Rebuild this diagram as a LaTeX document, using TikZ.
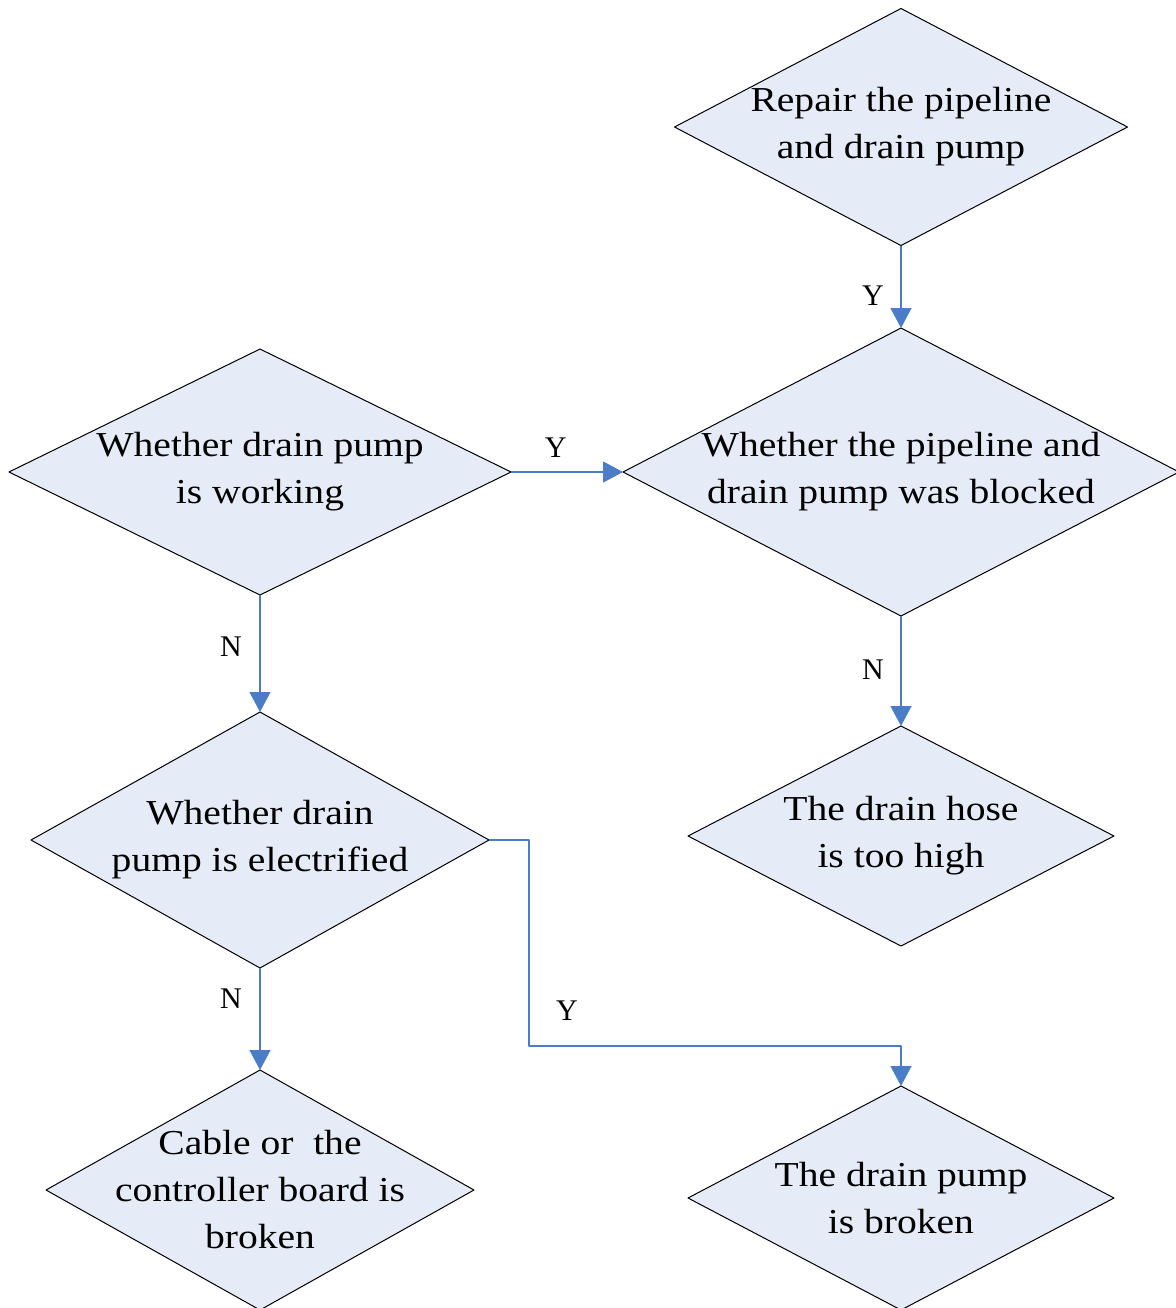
\documentclass[tikz,border=0pt]{standalone}
\usepackage{fontspec}
\setmainfont{Liberation Serif}
\newfontfamily\widefont[FakeStretch=1.13]{Liberation Serif}
\usetikzlibrary{shapes.geometric,arrows.meta}
\definecolor{boxfill}{HTML}{E6ECF7}
\definecolor{linkblue}{HTML}{4A7CC8}
\begin{document}
\begin{tikzpicture}[x=0.5pt,y=-0.5pt,>={Triangle[length=10pt,width=10.5pt]},line join=round,
		dia/.style 2 args={diamond,draw=black,line width=0.5pt,fill=boxfill,inner sep=0pt,outer sep=0pt,minimum width=#1pt,minimum height=#2pt},
		txt/.style={align=center,font=\widefont\fontsize{17.5}{23.5}\selectfont},
		link/.style={draw=linkblue,line width=0.6pt,->},
		yn/.style={font=\fontsize{15}{18}\selectfont}]
			\useasboundingbox (0,0) rectangle (1176,1308);
			% diamonds
			\node [dia={226.5}{118.5}, label={[txt]center:{Repair the pipeline\\and drain pump}}] (repair) at (901,127) {};
			\node [dia={278}{144}, label={[txt]center:{Whether the pipeline and\\drain pump was blocked}}] (block) at (901,472) {};
			\node [dia={251}{123}, label={[txt]center:{Whether drain pump\\is working}}] (work) at (260,472) {};
			\node [dia={229}{128}, label={[txt]center:{Whether drain\\pump is electrified}}] (elec) at (260,840) {};
			\node [dia={213}{110}, label={[txt]center:{The drain hose\\is too high}}] (hose) at (901,836) {};
			\node [dia={214}{120}, label={[txt]center:{Cable or~ the\\controller board is\\broken}}] (cable) at (260,1190) {};
			\node [dia={213}{112}, label={[txt]center:{The drain pump\\is broken}}] (broken) at (901,1198) {};
			\coordinate (bend) at (529,1046);
			% links
			\draw [link] (repair.south)--(block.north) node [yn, pos=0.61, xshift=-14pt] {Y};
			\draw [link] (work.east)--(block.west) node [yn, pos=0.4, yshift=12pt] {Y};
			\draw [link] (work.south)--(elec.north) node [yn, pos=0.44, xshift=-14.5pt] {N};
			\draw [link] (block.south)--(hose.north) node [yn, pos=0.49, xshift=-14pt] {N};
			\draw [link] (elec.south)--(cable.north) node [yn, pos=0.3, xshift=-14.5pt] {N};
			\draw [link] (elec.east) -| (bend) node [yn, xshift=19pt, yshift=17.5pt] {Y} -| (broken.north);
		\end{tikzpicture}
\end{document}
